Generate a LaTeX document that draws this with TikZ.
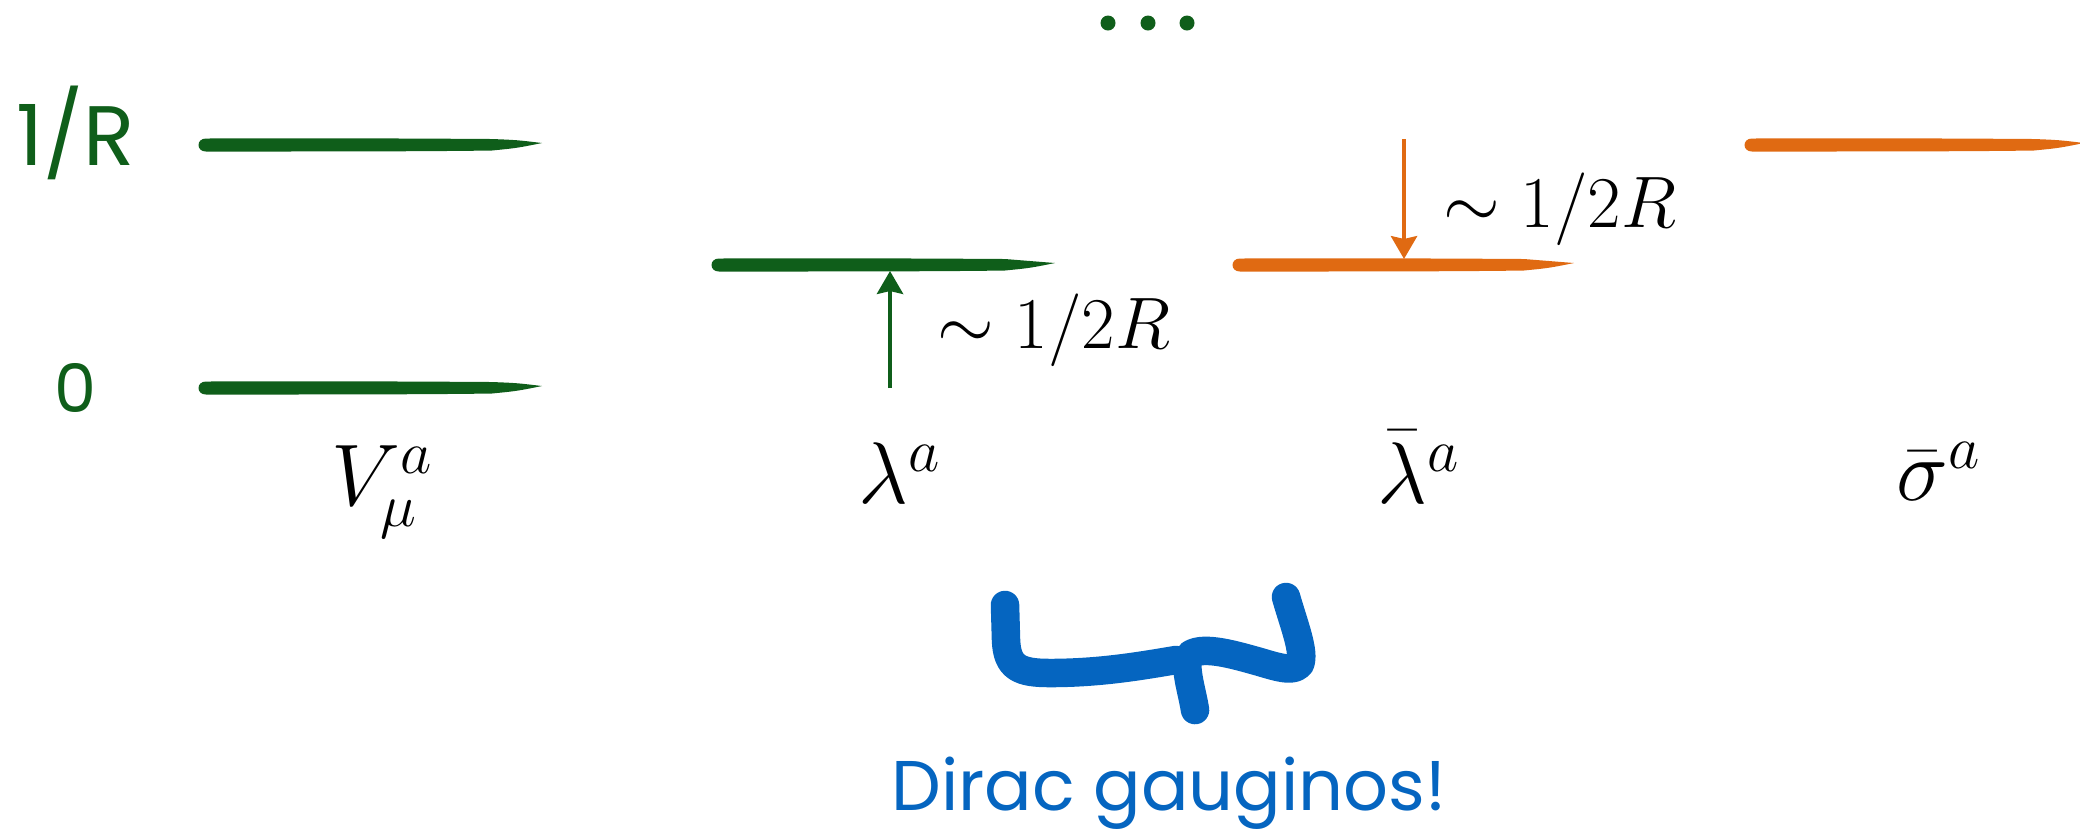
\documentclass[tikz,border=0pt]{standalone}
\usepackage{fontspec}
\usetikzlibrary{arrows.meta}
\newfontfamily\handfont{Poppins}
\definecolor{lvgreen}{RGB}{15,94,26}
\definecolor{lvorange}{RGB}{224,106,18}
\definecolor{lvblue}{RGB}{5,101,192}
\newcommand\brushline[4]{%
  \fill[#1] (#2+7,#4-6.5) .. controls (#2+120,#4-7) and (#3-120,#4-6.5) .. (#3-50,#4-6)
     .. controls (#3-25,#4-5) .. (#3,#4-2)
     .. controls (#3-25,#4+3) .. (#3-50,#4+5.5)
     .. controls (#3-120,#4+6.5) and (#2+120,#4+6.5) .. (#2+7,#4+6.5)
     .. controls (#2-3,#4+6.5) and (#2-3,#4-6.5) .. (#2+7,#4-6.5) -- cycle;}
\begin{document}
\begin{tikzpicture}[x=0.01cm,y=-0.01cm,
  mathlabel/.style={inner sep=0pt,anchor=base,font=\fontsize{23.5}{28}\selectfont},
  gaplabel/.style={inner sep=0pt,anchor=base west,font=\fontsize{19.5}{23}\selectfont},
  handlabel/.style={inner sep=0pt,text=lvgreen},
  levelarrow/.style={line width=1.2pt,-{Stealth[length=6.5pt,width=7.4pt,inset=0.8pt]}},
  swoosh/.style={lvblue,line width=0.285cm,line cap=round,line join=round},
  dot/.style={circle,fill=lvgreen,inner sep=0pt,minimum size=0.15cm}]
\path[use as bounding box] (0,0) rectangle (2080,838);

% level lines
\brushline{lvgreen}{199}{542}{145}
\brushline{lvgreen}{199}{542}{388}
\brushline{lvgreen}{712}{1055}{265}
\brushline{lvorange}{1233}{1574}{265}
\brushline{lvorange}{1745}{2084}{145}

% axis labels
\node[handlabel,font=\handfont\fontsize{24}{28}\selectfont] (oneR) at (76,133) {1/R};
\node[handlabel,font=\handfont\fontsize{19}{23}\selectfont] (zero) at (75,388) {0};

% dots
\node[dot] (d1) at (1108,23) {};
\node[dot] (d2) at (1148,23) {};
\node[dot] (d3) at (1187,23) {};

% arrows
\coordinate (gstart) at (890,388);
\coordinate (gend) at (890,271);
\draw[levelarrow,lvgreen] (gstart) -- (gend);
\coordinate (ostart) at (1404,139);
\coordinate (oend) at (1404,259);
\draw[levelarrow,lvorange] (ostart) -- (oend);

\node[gaplabel] (gapL) at (937,348) {$\sim 1/2R$};
\node[gaplabel] (gapR) at (1443,227) {$\sim 1/2R$};

% field labels
\node[mathlabel] (V) at (382,505) {$V^a_\mu$};
\node[mathlabel] (lam) at (900,503) {$\lambda^a$};
\node[mathlabel] (lamb) at (1419,503) {$\bar\lambda^a$};
\node[mathlabel] (sig) at (1939,500) {$\bar\sigma^a$};

% swoosh
\draw[swoosh] (1005,605) -- (1006,640) .. controls (1007,668) and (1020,673) .. (1050,673)
   .. controls (1100,673) and (1140,666) .. (1176,660);
\draw[swoosh] (1286,597) .. controls (1294,625) and (1305,652) .. (1300,664)
   .. controls (1294,672) and (1280,668) .. (1260,662)
   .. controls (1235,655) and (1205,646) .. (1191,654)
   .. controls (1182,662) and (1192,690) .. (1195,710);

\node[inner sep=0pt,anchor=base,text=lvblue,font=\handfont\fontsize{20}{24}\selectfont] (dirac) at (1169,810) {Dirac gauginos!};
\end{tikzpicture}
\end{document}
